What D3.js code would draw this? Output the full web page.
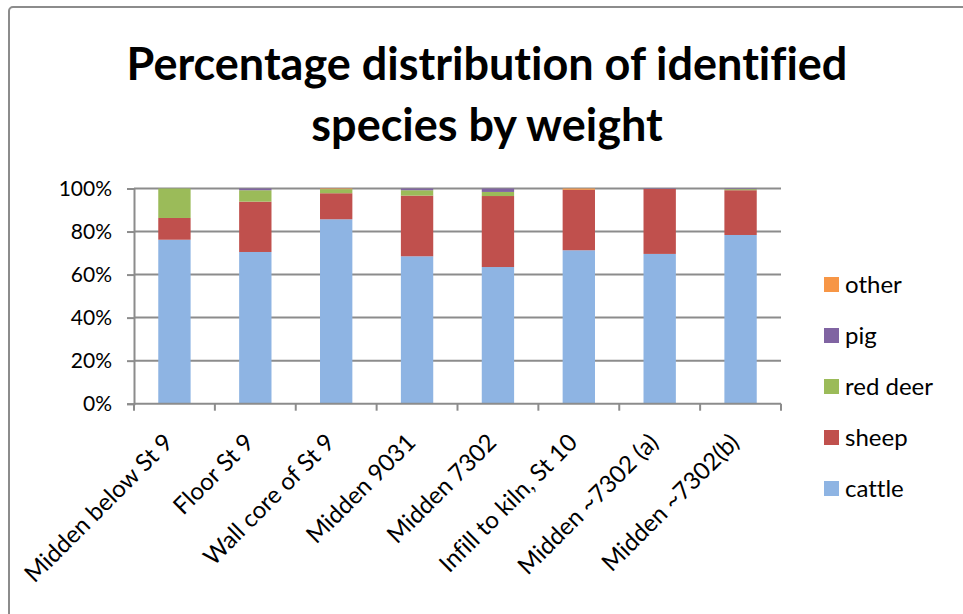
<!DOCTYPE html>
<html>
<head>
<meta charset="utf-8">
<script src="https://cdnjs.cloudflare.com/ajax/libs/d3/7.8.5/d3.min.js"></script>
<style>
  body { margin: 0; background: #fff; }
  svg text { font-family: Lato, "Open Sans", sans-serif; fill: #000; font-variant-ligatures: none; }
</style>
</head>
<body>
<svg id="chart" width="963" height="614"></svg>
<script>
// categories and series (percent)
const categories = ["Midden below St 9", "Floor St 9", "Wall core of St 9", "Midden 9031",
                    "Midden 7302", "Infill to kiln, St 10", "Midden ~7302 (a)", "Midden ~7302(b)"]
const cattle   = [76.2, 70.5, 85.7, 68.5, 63.5, 71.3, 69.6, 78.4]
const sheep    = [10.1, 23.4, 12.1, 28.2, 33.0, 28.1, 30.2, 20.8]
const red_deer = [13.7,  5.3,  1.9,  2.5,  1.9,  0.0,  0.0,  0.5]
const pig      = [ 0.0,  0.8,  0.0,  0.8,  1.6,  0.0,  0.2,  0.3]
const other    = [ 0.0,  0.0,  0.3,  0.0,  0.0,  0.6,  0.0,  0.0]
const y_ticks  = [0, 20, 40, 60, 80, 100]

const series = [
    {name: "cattle", values: cattle, color: "#8EB4E3"},
    {name: "sheep", values: sheep, color: "#C0504D"},
    {name: "red deer", values: red_deer, color: "#9BBB59"},
    {name: "pig", values: pig, color: "#8064A2"},
    {name: "other", values: other, color: "#F79646"}
]

const svg = d3.select("#chart")

// chart area border
svg.append("rect")
    .attr("x", 9).attr("y", 7)
    .attr("width", 980).attr("height", 640)
    .attr("rx", 4)
    .attr("fill", "none")
    .attr("stroke", "#8c8c8c")
    .attr("stroke-width", 2)

// title
const title_lines = ["Percentage distribution of identified", "species by weight"]
const title = svg.append("g")
let title_fs = 44
title_lines.forEach((line, i) => {
    const t = title.append("text")
        .attr("x", 487).attr("y", 80 + i * 61)
        .attr("text-anchor", "middle")
        .style("font-weight", "bold")
        .style("font-size", title_fs + "px")
        .text(line)
    if (i == 0) {
        // fit first line to the width it has in the picture
        const w = t.node().getComputedTextLength()
        title_fs = 44 * 721 / w
        t.style("font-size", title_fs + "px")
    }
})

const plot_left = 134, plot_right = 781, plot_top = 188.5, plot_bottom = 403.7

const x = d3.scaleBand().domain(categories).range([plot_left, plot_right]).paddingInner(0.6).paddingOuter(0.3)
const y = d3.scaleLinear().domain([0, 100]).range([plot_bottom, plot_top])

// gridlines
svg.append("g")
    .selectAll("line")
    .data(y_ticks.slice(1))
    .join("line")
    .attr("x1", plot_left).attr("x2", plot_right)
    .attr("y1", d => y(d)).attr("y2", d => y(d))
    .attr("stroke", "#8c8c8c")
    .attr("stroke-width", 2)

// stacked bars
const rows = categories.map((c, i) => {
    const r = {category: c}
    series.forEach(s => r[s.name] = s.values[i])
    return r
})
const stack = d3.stack().keys(series.map(s => s.name))(rows)

svg.append("g")
    .selectAll("g")
    .data(stack)
    .join("g")
    .attr("fill", (d, i) => series[i].color)
    .selectAll("rect")
    .data(d => d)
    .join("rect")
    .attr("x", d => x(d.data.category))
    .attr("width", x.bandwidth())
    .attr("y", d => y(d[1]))
    .attr("height", d => Math.max(0, y(d[0]) - y(d[1])))

// y axis
const y_axis = svg.append("g")
    .attr("transform", `translate(${plot_left},0)`)
    .call(d3.axisLeft(y).tickValues(y_ticks).tickFormat(d => d + "%").tickSize(7).tickPadding(15))
y_axis.select(".domain").attr("stroke", "#8c8c8c").attr("stroke-width", 2)
y_axis.selectAll(".tick line").attr("stroke", "#8c8c8c").attr("stroke-width", 2)
y_axis.selectAll(".tick text").style("font-size", "21px").attr("font-family", null)

// x axis
const bottom_axis = svg.append("g")
    .attr("transform", `translate(0,${plot_bottom})`)
const band_step = (plot_right - plot_left) / categories.length
bottom_axis.append("line")
    .attr("x1", plot_left).attr("x2", plot_right)
    .attr("stroke", "#8c8c8c").attr("stroke-width", 2)
bottom_axis.selectAll(".xtick")
    .data(d3.range(categories.length + 1))
    .join("line")
    .attr("class", "xtick")
    .attr("x1", d => plot_left + d * band_step).attr("x2", d => plot_left + d * band_step)
    .attr("y1", 0).attr("y2", 7)
    .attr("stroke", "#8c8c8c").attr("stroke-width", 2)

svg.append("g")
    .selectAll("text")
    .data(categories)
    .join("text")
    .attr("text-anchor", "end")
    .style("font-size", "24px")
    .attr("transform", d => `translate(${x(d) + x.bandwidth() / 2},444) rotate(-45)`)
    .text(d => d)

// legend, top to bottom: other ... cattle
const legend = svg.append("g")
const legend_items = series.slice().reverse()
legend.selectAll("rect")
    .data(legend_items)
    .join("rect")
    .attr("x", 824).attr("y", (d, i) => 277 + i * 51)
    .attr("width", 15).attr("height", 15)
    .attr("fill", d => d.color)
legend.selectAll("text")
    .data(legend_items)
    .join("text")
    .attr("x", 845).attr("y", (d, i) => 293 + i * 51)
    .style("font-size", "24px")
    .text(d => d.name)
</script>
</body>
</html>
